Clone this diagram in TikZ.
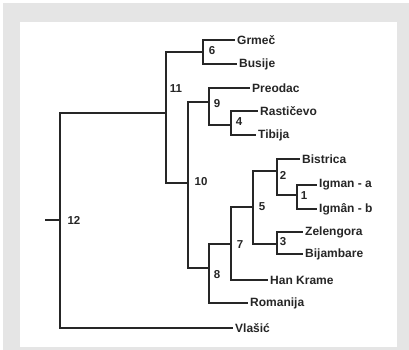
\documentclass[tikz,border=0pt]{standalone}
\usepackage{fontspec}
\setmainfont{Liberation Sans}
\begin{document}
\begin{tikzpicture}[x=1pt, y=-1pt,
    branch/.style={draw=black!85, line width=1.9pt},
    leaf/.style={anchor=west, inner sep=2pt, font=\fontsize{12}{13}\selectfont\bfseries, text=black!85},
    num/.style={inner sep=0pt, font=\fontsize{11.5}{12}\selectfont\bfseries, text=black!85}]
        % Frame
        \useasboundingbox (0,0) rectangle (409,350);
        \fill[gray!20] (3,3) rectangle (409,350);
        \fill[white] (20,22) rectangle (397,347);

        % Draw junctions
        \coordinate (root) at (45,220);
        \coordinate (n12) at (60,220);
        \coordinate (n11) at (166,113);
        \coordinate (n6) at (203,52);
        \coordinate (n10) at (188,183);
        \coordinate (n9) at (209,102);
        \coordinate (n4) at (231,125);
        \coordinate (n8) at (209,268);
        \coordinate (n7) at (231,244);
        \coordinate (n5) at (253,207);
        \coordinate (n2) at (277,171);
        \coordinate (n1) at (297,195);
        \coordinate (n3) at (277,244);

        % Draw leaves
        \node[leaf] (grmec) at (235,40) {Grmeč};
        \node[leaf] (busije) at (237,64) {Busije};
        \node[leaf] (preodac) at (250,88) {Preodac};
        \node[leaf] (rasticevo) at (258,111) {Rastičevo};
        \node[leaf] (tibija) at (256,135) {Tibija};
        \node[leaf] (bistrica) at (300,159) {Bistrica};
        \node[leaf] (igmana) at (317,185) {Igman - a};
        \node[leaf] (igmanb) at (317,209) {Igmân - b};
        \node[leaf] (zelengora) at (303,232) {Zelengora};
        \node[leaf] (bijambare) at (303,254) {Bijambare};
        \node[leaf] (hankrame) at (268,280) {Han Krame};
        \node[leaf] (romanija) at (248,303) {Romanija};
        \node[leaf] (vlasic) at (233,328) {Vlašić};

        % Draw connections
        \draw[branch] (root) -- (n12);
        \draw[branch] (n12) |- (n11);
        \draw[branch] (n12) |- (vlasic.west);
        \draw[branch] (n11) |- (n6);
        \draw[branch] (n11) |- (n10);
        \draw[branch] (n6) |- (grmec.west);
        \draw[branch] (n6) |- (busije.west);
        \draw[branch] (n10) |- (n9);
        \draw[branch] (n10) |- (n8);
        \draw[branch] (n9) |- (preodac.west);
        \draw[branch] (n9) |- (n4);
        \draw[branch] (n4) |- (rasticevo.west);
        \draw[branch] (n4) |- (tibija.west);
        \draw[branch] (n8) |- (n7);
        \draw[branch] (n8) |- (romanija.west);
        \draw[branch] (n7) |- (n5);
        \draw[branch] (n7) |- (hankrame.west);
        \draw[branch] (n5) |- (n2);
        \draw[branch] (n5) |- (n3);
        \draw[branch] (n2) |- (bistrica.west);
        \draw[branch] (n2) |- (n1);
        \draw[branch] (n1) |- (igmana.west);
        \draw[branch] (n1) |- (igmanb.west);
        \draw[branch] (n3) |- (zelengora.west);
        \draw[branch] (n3) |- (bijambare.west);

        % Labels
        \node[num] (l12) at (74,220) {12};
        \node[num] (l11) at (176,89) {11};
        \node[num] (l6) at (212,51) {6};
        \node[num] (l10) at (201,182) {10};
        \node[num] (l9) at (217,104) {9};
        \node[num] (l4) at (239,122) {4};
        \node[num] (l8) at (217,275) {8};
        \node[num] (l7) at (240,245) {7};
        \node[num] (l5) at (262,207) {5};
        \node[num] (l2) at (283,175) {2};
        \node[num] (l1) at (304,196) {1};
        \node[num] (l3) at (283,242) {3};
    \end{tikzpicture}
\end{document}
